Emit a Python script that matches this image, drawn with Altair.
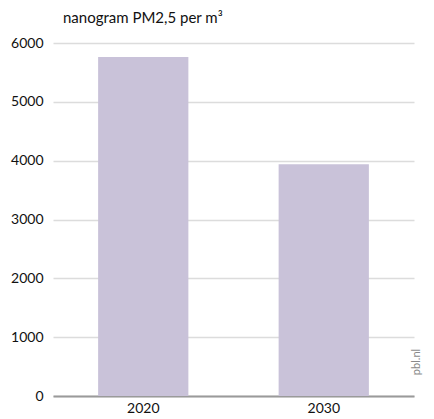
import altair as alt
import pandas as pd

years = ["2020", "2030"]
values = [5760, 3940]

df = pd.DataFrame({"jaar": years, "waarde": values})

FONT = "Lato"

bars = alt.Chart(df).mark_bar(color="#c9c2d9").encode(
    x=alt.X("jaar:N", title=None, sort=years,
            scale=alt.Scale(paddingInner=0.5, paddingOuter=0.25),
            axis=alt.Axis(labelAngle=0, ticks=False, domainColor="#9a9a9a", domainWidth=2,
                          labelFont=FONT, labelFontSize=14, labelColor="#111", labelPadding=5)),
    y=alt.Y("waarde:Q", title=None,
            scale=alt.Scale(domain=[0, 6000], nice=False),
            axis=alt.Axis(values=[0, 1000, 2000, 3000, 4000, 5000, 6000], format="d", domain=False, ticks=False,
                          gridColor="#dcdcdc", gridWidth=1.5, labelFont=FONT, labelFontSize=14,
                          labelColor="#111", labelPadding=10)),
)

src = alt.Chart(df).mark_text(angle=270, font=FONT, fontSize=11, color="#8a8a8a", align="center", baseline="middle").encode(
    x=alt.value(364), y=alt.value(319), text=alt.value("pbl.nl")
).transform_filter(alt.datum.jaar == "2020")

chart = alt.layer(bars, src).properties(
    width=361, height=353,
    title=alt.TitleParams("nanogram PM2,5 per m³", anchor="start", frame="group", font=FONT,
                          fontSize=15, fontWeight="normal", color="#111", offset=10, dx=10),
    padding={"left": 45, "top": 35, "right": 12, "bottom": 20},
    autosize=alt.AutoSizeParams(type="none"),
).configure_view(stroke=None)

chart.save("out.html", embed_options={"renderer": "svg", "actions": False})
